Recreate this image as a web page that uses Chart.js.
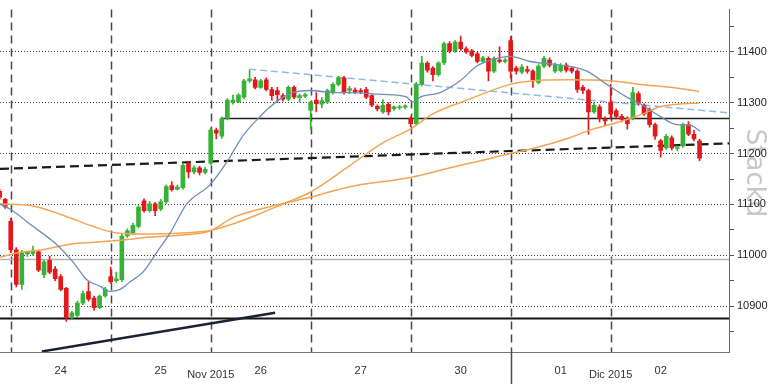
<!DOCTYPE html>
<html>
<head>
<meta charset="utf-8">
<script src="https://cdn.jsdelivr.net/npm/chart.js@4.4.0/dist/chart.umd.min.js"></script>
<style>
  html, body { margin: 0; padding: 0; background: #fff; }
  #wrap { width: 768px; height: 384px; position: relative; }
</style>
</head>
<body>
<div id="wrap"><canvas id="chart"></canvas></div>
<script>
// half-hour candles, index 0 = first bar of the 24th
const firstIndex = -2;
const opens = [11126, 11110,
  11067, 11011, 10943, 11003, 11004, 11007, 10962, 10990, 10973, 10958, 10935, 10880, 10882, 10906, 10929, 10916, 10897, 10920,
  10958, 10950, 10952, 11038, 11044, 11057, 11107, 11088, 11101, 11091, 11105, 11137, 11130, 11133, 11181, 11164, 11172, 11163,
  11181, 11246, 11234, 11269, 11300, 11302, 11311, 11343, 11345, 11330, 11345, 11326, 11324, 11314, 11307, 11330, 11310, 11313,
  11285, 11305, 11297, 11301, 11320, 11336, 11349, 11324, 11325, 11324, 11326, 11314, 11293, 11282, 11297, 11288, 11290, 11291,
  11269, 11259, 11336, 11378, 11368, 11355, 11378, 11416, 11402, 11419, 11406, 11402, 11396, 11381, 11387, 11362, 11384, 11381,
  11422, 11368, 11360, 11365, 11362, 11340, 11372, 11384, 11362, 11363, 11374, 11368, 11362, 11330, 11324, 11282, 11292, 11268,
  11301, 11284, 11273, 11269, 11269, 11318, 11295, 11286, 11257, 11225, 11211, 11231, 11210, 11215, 11257, 11238, 11225];
const highs = [11130, 11112,
  11072, 11015, 11010, 11008, 11018, 11010, 10990, 10998, 10978, 10962, 10937, 10890, 10910, 10930, 10948, 10920, 10922, 10937,
  10977, 10967, 11042, 11052, 11063, 11098, 11111, 11106, 11104, 11110, 11138, 11145, 11138, 11180, 11184, 11176, 11175, 11173,
  11250, 11250, 11272, 11308, 11315, 11318, 11346, 11364, 11350, 11346, 11349, 11330, 11330, 11318, 11333, 11333, 11317, 11319,
  11303, 11320, 11310, 11327, 11339, 11352, 11352, 11332, 11329, 11328, 11330, 11316, 11296, 11306, 11300, 11294, 11295, 11296,
  11272, 11340, 11391, 11381, 11371, 11381, 11419, 11420, 11422, 11431, 11410, 11405, 11399, 11391, 11390, 11390, 11410, 11387,
  11430, 11372, 11375, 11372, 11365, 11375, 11391, 11388, 11378, 11377, 11378, 11371, 11365, 11334, 11327, 11300, 11296, 11272,
  11336, 11288, 11277, 11272, 11330, 11322, 11298, 11290, 11260, 11228, 11238, 11235, 11215, 11260, 11263, 11246, 11228];
const lows = [11110, 11092,
  11005, 10938, 10933, 10998, 11000, 10968, 10956, 10964, 10950, 10930, 10870, 10875, 10878, 10903, 10910, 10892, 10895, 10918,
  10945, 10947, 10948, 11035, 11041, 11054, 11085, 11085, 11078, 11088, 11102, 11126, 11128, 11130, 11152, 11160, 11158, 11160,
  11178, 11229, 11230, 11266, 11297, 11300, 11308, 11340, 11327, 11328, 11323, 11305, 11300, 11303, 11304, 11308, 11301, 11310,
  11248, 11282, 11290, 11298, 11317, 11333, 11317, 11318, 11318, 11318, 11308, 11292, 11284, 11279, 11276, 11285, 11287, 11288,
  11253, 11256, 11333, 11360, 11343, 11352, 11375, 11398, 11399, 11403, 11397, 11390, 11378, 11378, 11343, 11359, 11378, 11378,
  11348, 11356, 11357, 11358, 11330, 11337, 11369, 11370, 11359, 11360, 11360, 11358, 11320, 11318, 11238, 11279, 11262, 11255,
  11269, 11268, 11262, 11248, 11266, 11295, 11275, 11252, 11228, 11193, 11208, 11207, 11205, 11212, 11235, 11225, 11186];
const closes = [11114, 11095,
  11011, 10943, 11005, 11006, 11009, 10971, 10987, 10967, 10954, 10933, 10878, 10887, 10906, 10925, 10914, 10897, 10920, 10933,
  10948, 10954, 11038, 11048, 11059, 11095, 11088, 11101, 11088, 11105, 11135, 11129, 11134, 11177, 11164, 11172, 11163, 11169,
  11246, 11240, 11269, 11305, 11305, 11315, 11343, 11347, 11330, 11343, 11326, 11314, 11316, 11307, 11330, 11311, 11314, 11316,
  11301, 11298, 11304, 11324, 11336, 11349, 11320, 11328, 11321, 11321, 11311, 11295, 11288, 11295, 11282, 11292, 11292, 11294,
  11259, 11336, 11378, 11364, 11355, 11378, 11416, 11402, 11419, 11406, 11400, 11393, 11381, 11388, 11362, 11387, 11381, 11384,
  11362, 11362, 11370, 11362, 11345, 11372, 11387, 11374, 11374, 11374, 11364, 11362, 11326, 11324, 11282, 11295, 11269, 11264,
  11278, 11273, 11267, 11259, 11320, 11299, 11278, 11257, 11234, 11206, 11234, 11211, 11212, 11257, 11238, 11229, 11191];

// moving averages, [bar index, value]
const maFast = [[-1.93, 11101], [-0.13, 11091], [4.0, 11057], [8.3, 11021], [11.2, 10987], [13.7, 10952], [16.1, 10939],
  [17.9, 10929], [19.7, 10933], [21.5, 10948], [23.8, 10967], [26.3, 11006], [28.7, 11044], [31.7, 11101], [35.9, 11139],
  [38.9, 11183], [41.8, 11235], [44.9, 11273], [46.1, 11286], [49.0, 11311], [50.8, 11320], [53.9, 11324], [58.0, 11320],
  [61.1, 11320], [65.9, 11317], [69.5, 11315], [71.3, 11311], [72.4, 11301], [73.7, 11311], [77.3, 11320], [80.9, 11343],
  [83.9, 11372], [86.3, 11383], [89.9, 11391], [93.5, 11381], [98.9, 11374], [103.7, 11362], [107.3, 11336], [110.9, 11311],
  [113.3, 11298], [116.9, 11273], [119.9, 11257], [122.3, 11256], [124.1, 11244]];
const ma50 = [[-1.93, 11101], [4.0, 11097], [10.1, 11076], [14.8, 11057], [19.1, 11044], [25.1, 11042], [31.0, 11044],
  [35.9, 11049], [40.4, 11063], [44.9, 11082], [49.0, 11101], [53.9, 11124], [61.1, 11177], [67.0, 11221], [71.9, 11248],
  [76.0, 11278], [82.1, 11305], [89.9, 11336], [94.0, 11343], [100.1, 11345], [107.9, 11343], [113.3, 11336],
  [119.2, 11330], [123.9, 11322]];
const ma100 = [[-1.93, 10996], [1.7, 11006], [5.8, 11011], [10.1, 11021], [14.3, 11025], [19.1, 11029], [25.1, 11036],
  [31.0, 11040], [35.9, 11048], [40.0, 11074], [44.9, 11091], [53.9, 11114], [61.1, 11135], [71.9, 11153], [79.1, 11172],
  [85.0, 11187], [89.9, 11200], [94.0, 11210], [100.1, 11229], [104.8, 11248], [107.9, 11257], [110.9, 11267],
  [113.8, 11278], [116.9, 11292], [121.0, 11298], [123.9, 11299]];

// drawn levels and trend lines
const trendDashed = [[-1.93, 11170], [129.3, 11220]];
const trendLightBlue = [[42.9, 11366], [129.3, 11280]];
const resistance = [[38.0, 11269], [129.3, 11269]];
const support = [[-1.93, 10876], [129.3, 10876]];
const greyLevel = [[-1.93, 10992], [129.3, 10992]];
const risingLine = [[5.6, 10811], [47.6, 10887]];

const dayLabels = ['24', '25', '26', '27', '30', '01', '02'];
const dayMids = [9, 27, 45, 63, 81, 99, 117];
const dayStarts = [0, 18, 36, 54, 72, 90, 108];
const monthLabels = ['Nov 2015', 'Dic 2015'];
const monthPos = [36, 108];
const monthSplit = 90;
const yTicks = [10850, 10900, 10950, 11000, 11050, 11100, 11150, 11200, 11250, 11300, 11350, 11400, 11450];
const watermark = 'Stackd';

const xMin = -1.93, xMax = 129.3;
const green = '#36b236', red = '#e2191c';

const candleColors = opens.map((o, k) => closes[k] >= o ? green : red);
const bodies = opens.map((o, k) => ({ x: firstIndex + k, y: [o, closes[k]] }));
const wicks = opens.map((o, k) => ({ x: firstIndex + k, y: [lows[k], highs[k]] }));
const pts = arr => arr.map(p => ({ x: p[0], y: p[1] }));

function lineSet(data, color, width, dash, order, smooth) {
  return {
    type: 'line', data: pts(data), borderColor: color, borderWidth: width, borderDash: dash || [],
    pointRadius: 0, fill: false, order: order,
    cubicInterpolationMode: smooth ? 'monotone' : 'default', tension: 0
  };
}

const overlay = {
  id: 'overlay',
  beforeDraw(chart) {
    const ctx = chart.ctx;
    ctx.save();
    ctx.fillStyle = '#fff';
    ctx.fillRect(0, 0, chart.width, chart.height);
    ctx.translate(747, 173);
    ctx.rotate(Math.PI / 2);
    ctx.font = '26px "DejaVu Sans"';
    ctx.fillStyle = '#c8c8c8';
    ctx.textAlign = 'center';
    ctx.textBaseline = 'alphabetic';
    ctx.fillText(watermark, 0, 0);
    ctx.restore();
  },
  beforeDatasetsDraw(chart) {
    const ctx = chart.ctx, x = chart.scales.x, a = chart.chartArea;
    ctx.save();
    ctx.strokeStyle = '#4a4a4a';
    ctx.lineWidth = 1.5;
    ctx.setLineDash([8, 5]);
    dayStarts.forEach(d => {
      const px = Math.round(x.getPixelForValue(d)) + 0.5;
      ctx.beginPath();
      ctx.moveTo(px, a.top);
      ctx.lineTo(px, a.bottom);
      ctx.stroke();
    });
    ctx.restore();
  },
  afterDraw(chart) {
    const ctx = chart.ctx, x = chart.scales.x, a = chart.chartArea;
    ctx.save();
    const px = Math.round(x.getPixelForValue(monthSplit)) + 0.5;
    ctx.strokeStyle = '#4a4a4a';
    ctx.lineWidth = 1.5;
    ctx.beginPath();
    ctx.moveTo(px, a.bottom);
    ctx.lineTo(px, chart.height);
    ctx.stroke();
    ctx.font = '11px "Liberation Sans"';
    ctx.fillStyle = '#333';
    ctx.textAlign = 'center';
    ctx.textBaseline = 'middle';
    monthLabels.forEach((m, k) => ctx.fillText(m, x.getPixelForValue(monthPos[k]), 375));
    ctx.restore();
  }
};

new Chart(document.getElementById('chart'), {
  type: 'bar',
  data: {
    datasets: [
      lineSet(greyLevel, '#b4b4b4', 1.5, null, 20),
      lineSet(support, '#151515', 2, null, 19),
      lineSet(resistance, '#222', 1.3, null, 18),
      lineSet(risingLine, '#1b2235', 2.5, null, 17),
      lineSet(trendDashed, '#1a1a1a', 2.2, [9, 5], 16),
      lineSet(trendLightBlue, '#90b8e6', 1.5, [7, 4], 15),
      { type: 'bar', data: wicks, backgroundColor: candleColors, barThickness: 1, grouped: false, order: 10 },
      { type: 'bar', data: bodies, backgroundColor: candleColors, barThickness: 4, minBarLength: 1, grouped: false, order: 9 },
      lineSet(ma100, '#f2a552', 1.5, null, 3, true),
      lineSet(ma50, '#f2a552', 1.5, null, 2, true),
      lineSet(maFast, '#6d8fb5', 1.3, null, 1, true)
    ]
  },
  options: {
    responsive: true,
    maintainAspectRatio: false,
    devicePixelRatio: 1,
    animation: false,
    layout: { padding: 0 },
    plugins: { legend: { display: false }, tooltip: { enabled: false } },
    scales: {
      x: {
        type: 'linear', min: xMin, max: xMax, offset: false,
        afterBuildTicks: s => { s.ticks = dayMids.map(v => ({ value: v })); },
        afterFit: s => { s.height = 32; },
        grid: { display: false, offset: false },
        border: { display: true, color: '#777', width: 1 },
        ticks: {
          autoSkip: false, maxRotation: 0, padding: 4,
          callback: (v, i) => dayLabels[i],
          font: { family: 'Liberation Sans', size: 11 }, color: '#333'
        }
      },
      y: {
        position: 'right', min: 10810, max: 11483,
        afterBuildTicks: s => { s.ticks = yTicks.map(v => ({ value: v })); },
        afterFit: s => { s.width = 39; },
        grid: {
          color: c => (c.tick && c.tick.value % 100 === 0) ? '#3a3a3a' : 'rgba(0,0,0,0)',
          lineWidth: 1, tickColor: '#555', tickLength: 5, tickBorderDash: []
        },
        border: { display: true, color: '#666', width: 1, dash: [1, 2] },
        ticks: {
          padding: 3,
          callback: v => v % 100 === 0 ? String(v) : '',
          font: { family: 'Liberation Sans', size: 11 }, color: '#222'
        }
      }
    }
  },
  plugins: [overlay]
});
</script>
</body>
</html>
